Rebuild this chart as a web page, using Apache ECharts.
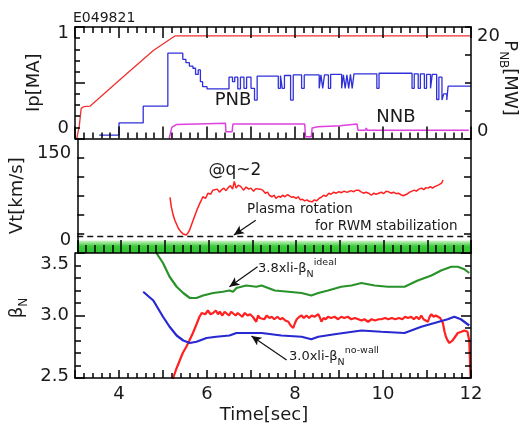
<!DOCTYPE html>
<html>
<head>
<meta charset="utf-8">
<script src="https://cdn.jsdelivr.net/npm/echarts@6/dist/echarts.min.js"></script>
<style>
  html, body { margin: 0; padding: 0; background: #fff; }
  #chart { width: 525px; height: 429px; }
</style>
</head>
<body>
<div id="chart"></div>
<script>
// ---- data (time in s) ----
const ipSeries = [[3.04, 0], [3.10, 0.12], [3.14, 0.27], [3.20, 0.285], [3.34, 0.29], [4.00, 0.52], [4.78, 0.79], [5.27, 0.92], [12, 0.92]];

// PNB power [MW], step-held values
const pnbSeries = [
  [3.55, 0.6], [4.00, 2.8], [4.55, 5.8], [5.11, 15.3], [5.45, 14.2], [5.52, 13.6], [5.60, 13.0], [5.68, 12.6],
  [5.74, 11.5], [5.80, 12.3], [5.85, 10.2], [5.90, 9.3], [6.00, 8.9], [6.50, 11.0], [6.58, 10.2], [6.63, 11.0],
  [6.70, 8.9], [6.76, 11.0], [6.84, 9.0], [6.90, 11.0], [7.00, 9.0], [7.08, 6.9], [7.14, 11.2], [7.62, 9.0],
  [7.67, 11.3], [7.71, 9.0], [7.76, 11.3], [7.90, 6.9], [7.96, 11.4], [8.15, 9.0], [8.21, 11.4], [8.55, 9.0],
  [8.59, 11.4], [8.63, 9.0], [8.67, 11.4], [8.76, 9.0], [8.81, 11.5], [9.06, 9.0], [9.10, 11.4], [9.14, 9.0],
  [9.18, 11.4], [9.22, 9.0], [9.26, 11.5], [9.30, 9.0], [9.34, 11.6], [9.86, 9.0], [9.91, 11.7], [10.66, 9.0],
  [10.71, 11.6], [10.80, 9.0], [10.85, 11.6], [10.94, 9.0], [10.99, 11.5], [11.08, 9.0], [11.12, 11.5], [11.22, 7.0],
  [11.27, 11.0], [11.34, 6.9], [11.38, 8.0], [11.45, 6.9], [11.48, 9.4], [12, 9.4]
];

// NNB power [MW]
const nnbSeries = [
  [5.14, 0], [5.20, 2.0], [5.30, 2.5], [6.00, 2.65], [6.42, 2.75], [6.43, 1.2], [6.57, 1.2], [6.59, 2.6],
  [8.22, 2.6], [8.24, 0.3], [8.37, 0.3], [8.39, 1.9], [8.52, 2.1], [8.54, 2.3], [9.02, 2.3], [9.04, 2.6],
  [9.41, 2.6], [9.43, 1.5], [9.60, 1.5], [9.62, 1.9], [9.64, 1.5], [11.95, 1.5]
];

// toroidal rotation @q~2 [km/s]
const vtSeries = [
  [5.12, 72], [5.15, 53], [5.19, 38], [5.23, 27], [5.31, 11], [5.37, 4], [5.42, 0], [5.49, -2], [5.53, 2], [5.57, 8],
  [5.62, 20], [5.68, 34], [5.74, 48], [5.80, 60], [5.84, 67], [5.87, 73], [5.93, 70], [5.99, 80], [6.05, 78], [6.10, 86],
  [6.14, 83], [6.20, 88], [6.25, 82], [6.29, 86], [6.35, 90], [6.40, 85], [6.44, 90], [6.50, 95], [6.55, 88], [6.59, 103],
  [6.63, 90], [6.68, 96], [6.74, 93], [6.80, 86], [6.86, 92], [6.92, 88], [6.97, 90], [7.03, 84], [7.08, 89], [7.12, 86],
  [7.18, 88], [7.24, 86], [7.30, 80], [7.35, 82], [7.39, 76], [7.45, 73], [7.50, 76], [7.54, 70], [7.60, 74], [7.65, 72],
  [7.69, 76], [7.75, 73], [7.80, 77], [7.85, 75], [7.90, 72], [7.95, 73], [8.00, 70], [8.05, 73], [8.10, 67], [8.15, 68],
  [8.20, 65], [8.25, 67], [8.30, 64], [8.37, 63], [8.42, 67], [8.47, 65], [8.53, 70], [8.58, 72], [8.63, 76], [8.69, 74],
  [8.75, 80], [8.80, 78], [8.86, 82], [8.92, 80], [8.98, 83], [9.04, 81], [9.10, 84], [9.15, 82], [9.20, 83], [9.26, 85],
  [9.32, 83], [9.38, 86], [9.43, 86], [9.48, 83], [9.54, 80], [9.60, 82], [9.66, 80], [9.72, 76], [9.78, 80], [9.83, 78],
  [9.89, 80], [9.95, 82], [10.00, 79], [10.06, 84], [10.11, 83], [10.17, 80], [10.23, 82], [10.29, 79], [10.34, 80], [10.40, 77],
  [10.45, 75], [10.49, 75], [10.55, 79], [10.60, 82], [10.64, 83], [10.70, 86], [10.75, 84], [10.81, 88], [10.87, 90], [10.92, 87],
  [10.97, 91], [11.02, 90], [11.07, 93], [11.12, 90], [11.17, 93], [11.21, 91], [11.25, 96], [11.29, 94], [11.33, 100], [11.36, 106]
];
const rwmLevel = -4;            // dashed line, rotation for RWM stabilization
const greenBand = [-37.5, -13]; // shaded band under it

// beta_N measured
const betaMeas = [
  [5.21, 2.48], [5.30, 2.57], [5.38, 2.64], [5.45, 2.70], [5.53, 2.75], [5.60, 2.80], [5.68, 2.86], [5.75, 2.92], [5.83, 2.99],
  [5.88, 3.02], [5.91, 3.03], [5.96, 3.01], [6.02, 3.04], [6.08, 3.01], [6.14, 3.02], [6.20, 3.04], [6.25, 3.01], [6.29, 3.03],
  [6.35, 3.00], [6.40, 3.03], [6.44, 3.02], [6.50, 3.00], [6.55, 3.03], [6.59, 3.03], [6.65, 3.00], [6.70, 3.02], [6.74, 3.01],
  [6.80, 2.99], [6.86, 3.02], [6.92, 3.00], [6.98, 3.01], [7.04, 2.99], [7.08, 2.97], [7.12, 2.95], [7.16, 3.00], [7.20, 2.98],
  [7.24, 2.99], [7.30, 2.97], [7.36, 3.00], [7.42, 2.98], [7.47, 2.99], [7.53, 2.97], [7.60, 2.99], [7.66, 2.97], [7.72, 2.98],
  [7.78, 2.96], [7.85, 2.95], [7.90, 2.92], [7.96, 2.90], [8.00, 2.94], [8.04, 2.97], [8.10, 2.99], [8.15, 3.00], [8.20, 2.98],
  [8.26, 3.00], [8.32, 2.98], [8.38, 3.00], [8.44, 2.99], [8.53, 3.01], [8.57, 2.98], [8.60, 2.95], [8.65, 2.98], [8.70, 2.97],
  [8.75, 2.99], [8.82, 2.98], [8.90, 2.99], [8.98, 2.97], [9.05, 2.99], [9.12, 2.98], [9.20, 2.99], [9.28, 2.97], [9.36, 2.98],
  [9.44, 2.97], [9.51, 2.96], [9.58, 2.97], [9.66, 2.95], [9.74, 2.97], [9.82, 2.96], [9.90, 2.97], [9.96, 2.97], [10.05, 2.98],
  [10.12, 2.97], [10.20, 2.98], [10.28, 2.97], [10.36, 2.98], [10.44, 2.97], [10.50, 2.99], [10.57, 2.98], [10.64, 2.99],
  [10.70, 2.97], [10.76, 2.99], [10.82, 2.97], [10.87, 3.00], [10.92, 2.97], [10.97, 2.96], [11.02, 2.95], [11.06, 2.99],
  [11.10, 3.01], [11.15, 2.99], [11.20, 3.00], [11.25, 2.99], [11.30, 2.98], [11.36, 2.94], [11.40, 2.87], [11.43, 2.83],
  [11.47, 2.80], [11.51, 2.78], [11.55, 2.79], [11.58, 2.80], [11.64, 2.83], [11.70, 2.86], [11.78, 2.87], [11.85, 2.88],
  [11.92, 2.87], [11.96, 2.80], [11.99, 2.50]
];
// 3.8 x li  (ideal wall limit)
const betaIdeal = [
  [4.80, 3.55], [4.85, 3.50], [5.00, 3.42], [5.15, 3.31], [5.31, 3.23], [5.46, 3.18], [5.61, 3.14], [5.76, 3.14], [5.91, 3.16],
  [6.14, 3.18], [6.36, 3.19], [6.51, 3.20], [6.59, 3.19], [6.67, 3.22], [6.89, 3.24], [7.12, 3.23], [7.24, 3.24], [7.54, 3.20],
  [7.85, 3.19], [8.15, 3.18], [8.37, 3.16], [8.53, 3.18], [8.75, 3.20], [9.05, 3.23], [9.28, 3.24], [9.51, 3.26], [9.81, 3.24],
  [10.11, 3.23], [10.49, 3.23], [10.79, 3.28], [11.10, 3.32], [11.32, 3.36], [11.55, 3.39], [11.70, 3.39], [11.85, 3.37], [11.96, 3.34]
];
// 3.0 x li  (no-wall limit)
const betaNoWall = [
  [4.55, 3.19], [4.78, 3.12], [5.00, 2.99], [5.15, 2.91], [5.31, 2.84], [5.46, 2.80], [5.61, 2.78], [5.76, 2.79], [5.99, 2.82],
  [6.21, 2.83], [6.51, 2.84], [6.67, 2.86], [6.89, 2.86], [7.24, 2.86], [7.69, 2.84], [8.15, 2.83], [8.37, 2.81], [8.53, 2.83],
  [8.90, 2.85], [9.51, 2.88], [9.96, 2.87], [10.49, 2.86], [10.87, 2.91], [11.17, 2.94], [11.47, 2.97], [11.62, 2.99], [11.77, 2.97], [11.96, 2.92]
];

// annotation arrows [from, to]
const arrowRwm = [[7.08, 27], [6.58, -2]];
const arrowIdeal = [[7.15, 3.39], [6.51, 3.23]];
const arrowNoWall = [[7.81, 2.644], [7.01, 2.836]];

// tick labels shown
const timeLabels = [4, 6, 8, 10, 12];

const FONT = '"DejaVu Sans", sans-serif';
const INK = '#000';
const TXT = '#1a1a1a';
const tickTxt = { fontFamily: FONT, fontSize: 18, color: TXT };

function timeAxis(gridIndex, position, major, minor, labels) {
  return {
    type: 'value', gridIndex: gridIndex, position: position, min: 3, max: 12, interval: 1, z: 12,
    axisLine: { show: true, onZero: false, lineStyle: { color: INK, width: 1.5 } },
    axisTick: { show: true, inside: true, length: major, lineStyle: { color: INK, width: 1.5 } },
    minorTick: { show: true, splitNumber: 5, length: minor, lineStyle: { color: INK, width: 1.5 } },
    splitLine: { show: false },
    axisLabel: labels ? {
      show: true, margin: 7, fontFamily: FONT, fontSize: 18, color: TXT,
      formatter: v => timeLabels.includes(v) ? String(v) : ''
    } : { show: false },
    name: labels ? 'Time[sec]' : '',
    nameLocation: 'middle', nameGap: 28,
    nameTextStyle: { fontFamily: FONT, fontSize: 18, color: TXT, padding: [0, 18, 0, 0] }
  };
}

function valAxis(gridIndex, position, min, max, interval, tickLen, minorLen, fmt, rich) {
  return {
    type: 'value', gridIndex: gridIndex, position: position, min: min, max: max, interval: interval, z: 12,
    axisLine: { show: true, onZero: false, lineStyle: { color: INK, width: 1.5 } },
    axisTick: { show: true, inside: true, length: tickLen, lineStyle: { color: INK, width: 1.5 } },
    minorTick: { show: minorLen > 0, splitNumber: 5, length: minorLen, lineStyle: { color: INK, width: 1.5 } },
    splitLine: { show: false },
    axisLabel: fmt ? { show: true, margin: 6, fontFamily: FONT, fontSize: 18, color: TXT, formatter: fmt, rich: rich } : { show: false }
  };
}

const shiftRich = {
  t13: Object.assign({ padding: [13, 0, 0, 0] }, tickTxt),
  b20: Object.assign({ padding: [0, 0, 20, 0] }, tickTxt),
  t18: Object.assign({ padding: [18, 0, 0, 0] }, tickTxt),
  b15: Object.assign({ padding: [0, 0, 15, 0] }, tickTxt),
  t12: Object.assign({ padding: [12, 0, 0, 0] }, tickTxt),
  b8: Object.assign({ padding: [0, 0, 8, 0] }, tickTxt),
  t23: Object.assign({ padding: [23, 0, 0, 0] }, tickTxt),
  b4: Object.assign({ padding: [0, 0, 4, 0] }, tickTxt)
};

const nameStyle = { fontFamily: FONT, fontSize: 18, color: TXT };

const yAxes = [
  // 0: Ip
  Object.assign(valAxis(0, 'left', 0, 1, 0.5, 10, 5,
    v => v === 1 ? '{t13|1}' : v === 0 ? '{b20|0}' : '', shiftRich), {
    name: 'Ip[MA]', nameLocation: 'middle', nameRotate: 90, nameGap: 32, nameTextStyle: nameStyle
  }),
  // 1: PNB / NNB (name drawn as graphic text below)
  valAxis(0, 'right', 0, 20, 5, 6, 0,
    v => v === 20 ? '{t18|20}' : v === 0 ? '{b15|0}' : '', shiftRich),
  // 2: Vt
  Object.assign(valAxis(1, 'left', -37.5, 187.5, 37.5, 7, 0,
    v => v === 0 ? '{t12|0}' : v === 150 ? '{b8|150}' : '', shiftRich), {
    name: 'Vt[km/s]', nameLocation: 'middle', nameRotate: 90, nameGap: 32, nameTextStyle: nameStyle
  }),
  // 3: Vt mirror
  valAxis(1, 'right', -37.5, 187.5, 37.5, 7, 0, null),
  // 4: beta_N (name drawn as graphic text below)
  valAxis(2, 'left', 2.5, 3.5, 0.5, 10, 6,
    v => v === 3.5 ? '{t23|3.5}' : v === 2.5 ? '{b4|2.5}' : v.toFixed(1), shiftRich),
  // 5: beta_N mirror
  valAxis(2, 'right', 2.5, 3.5, 0.5, 10, 6, null)
];

const arrowLine = (pair) => [
  { coord: pair[0], symbol: 'none' },
  { coord: pair[1], symbol: 'arrow', symbolSize: [7, 10] }
];
const markArrow = (pair) => ({
  silent: true, symbol: ['none', 'none'], label: { show: false },
  lineStyle: { color: '#111', width: 1.2, type: 'solid' },
  data: [arrowLine(pair)]
});

const subRich = {
  m: { fontFamily: FONT, fontSize: 13, fill: TXT, lineHeight: 22 },
  s: { fontFamily: FONT, fontSize: 9.5, fill: TXT, lineHeight: 10, verticalAlign: 'bottom' },
  u: { fontFamily: FONT, fontSize: 9.5, fill: TXT, lineHeight: 10, verticalAlign: 'top' }
};
const nameRich = {
  b: { fontFamily: FONT, fontSize: 18, fill: TXT, lineHeight: 26 },
  s: { fontFamily: FONT, fontSize: 12, fill: TXT, lineHeight: 13, verticalAlign: 'bottom' }
};
function txt(x, y, text, size, align, rich, rotation) {
  return {
    type: 'text', x: x, y: y, z: 50, silent: true, rotation: rotation || 0,
    style: {
      text: text, fontFamily: FONT, fontSize: size, fill: TXT,
      align: align, textAlign: align, verticalAlign: 'middle', textVerticalAlign: 'middle',
      rich: rich
    }
  };
}

const option = {
  animation: false,
  grid: [
    { left: 75, right: 54, top: 27, height: 111.5 },
    { left: 75, right: 54, top: 138.5, height: 114.5 },
    { left: 75, right: 54, top: 253, height: 125 }
  ],
  xAxis: [
    timeAxis(0, 'bottom', 12, 6, false),
    timeAxis(0, 'top', 11, 6, false),
    timeAxis(1, 'bottom', 13, 8, false),
    timeAxis(2, 'bottom', 8, 5, true)
  ],
  yAxis: yAxes,
  graphic: [
    txt(73, 18, 'E049821', 14, 'left'),
    txt(233, 100, 'PNB', 18, 'center'),
    txt(396, 117, 'NNB', 18, 'center'),
    txt(235, 171, '@q~2', 17, 'center'),
    txt(247, 209, 'Plasma rotation', 13.5, 'left'),
    txt(315, 226, 'for RWM stabilization', 13.5, 'left'),
    txt(258, 269, '{m|3.8xli-β}{s|N}{u|ideal}', 13, 'left', subRich),
    txt(289, 357, '{m|3.0xli-β}{s|N}{u|no-wall}', 13, 'left', subRich),
    txt(510, 78, '{b|P}{s|NB}{b|[MW]}', 18, 'center', nameRich, -Math.PI / 2),
    txt(17, 308, '{b|β}{s|N}', 18, 'center', nameRich, Math.PI / 2)
  ],
  series: [
    { name: 'Ip', type: 'line', xAxisIndex: 0, yAxisIndex: 0, data: ipSeries, showSymbol: false,
      lineStyle: { color: '#f03030', width: 1.3 } },
    { name: 'PNB', type: 'line', xAxisIndex: 0, yAxisIndex: 1, data: pnbSeries, showSymbol: false, step: 'end',
      lineStyle: { color: '#3030d8', width: 1.3 } },
    { name: 'NNB', type: 'line', xAxisIndex: 0, yAxisIndex: 1, data: nnbSeries, showSymbol: false,
      lineStyle: { color: '#e040e0', width: 1.5 } },
    { name: 'Vt', type: 'line', xAxisIndex: 2, yAxisIndex: 2, data: vtSeries, showSymbol: false,
      lineStyle: { color: '#ff2020', width: 1.5 },
      markArea: {
        silent: true,
        itemStyle: {
          color: new echarts.graphic.LinearGradient(0, 0, 0, 1, [
            { offset: 0, color: '#d4f4cc' },
            { offset: 0.45, color: '#3ccc3c' },
            { offset: 1, color: '#2fc02f' }
          ])
        },
        data: [[{ xAxis: 3, yAxis: greenBand[1] }, { xAxis: 12, yAxis: greenBand[0] }]]
      },
      markLine: {
        silent: true, symbol: ['none', 'none'], label: { show: false },
        data: [
          { yAxis: rwmLevel, lineStyle: { color: '#111', width: 1.4, type: [6, 4] } },
          arrowLine(arrowRwm).map(p => Object.assign({ lineStyle: { color: '#111', width: 1.2, type: 'solid' } }, p))
        ]
      }
    },
    { name: 'betaN', type: 'line', xAxisIndex: 3, yAxisIndex: 4, data: betaMeas, showSymbol: false,
      lineStyle: { color: '#ff2020', width: 2.2 } },
    { name: 'ideal', type: 'line', xAxisIndex: 3, yAxisIndex: 4, data: betaIdeal, showSymbol: false,
      lineStyle: { color: '#2a922a', width: 2.2 }, markLine: markArrow(arrowIdeal) },
    { name: 'nowall', type: 'line', xAxisIndex: 3, yAxisIndex: 4, data: betaNoWall, showSymbol: false,
      lineStyle: { color: '#2828d0', width: 2.2 }, markLine: markArrow(arrowNoWall) }
  ]
};

const chart = echarts.init(document.getElementById('chart'));
chart.setOption(option);
</script>
</body>
</html>
